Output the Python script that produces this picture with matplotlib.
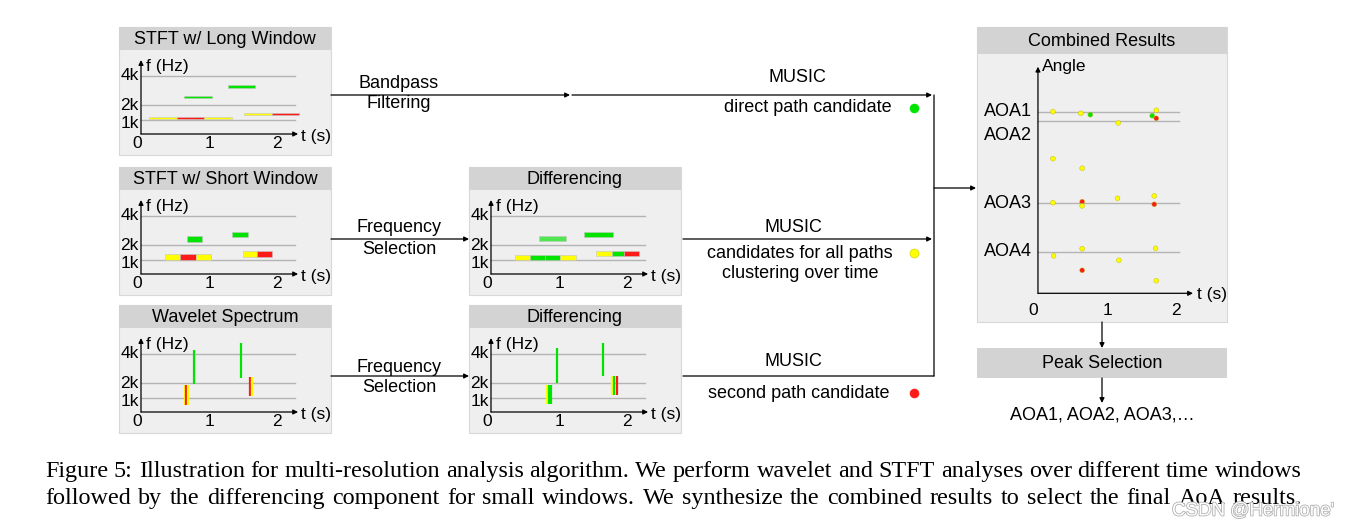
import matplotlib
matplotlib.use("Agg")
import matplotlib.pyplot as plt
import matplotlib.patheffects as pe
from matplotlib.patches import Rectangle

W, H = 1354, 529
plt.rcParams["font.family"] = ["Liberation Sans", "DejaVu Sans"]

COLORS = {"y": "#ffff00", "r": "#ff1a1a", "g": "#00e400", "lg": "#4fe64f"}

# ---------------------------------------------------------------------------
# Data (time in s, frequency in kHz, angle in arbitrary units)
# ---------------------------------------------------------------------------
# STFT w/ long window: bar start, bar end, frequency, path class
long_t0 = [0.12, 0.53, 0.93, 0.63, 1.28, 1.51, 1.93]
long_t1 = [0.53, 0.93, 1.34, 1.04, 1.68, 1.93, 2.32]
long_f = [1.12, 1.12, 1.12, 2.57, 3.26, 1.38, 1.38]
long_c = ["y", "r", "y", "g", "g", "y", "r"]

# STFT w/ short window
short_t0 = [0.67, 1.34, 0.36, 0.58, 0.81, 1.50, 1.71]
short_t1 = [0.89, 1.57, 0.58, 0.81, 1.03, 1.71, 1.93]
short_f = [2.43, 2.74, 1.18, 1.18, 1.18, 1.38, 1.38]
short_c = ["g", "g", "y", "r", "y", "y", "r"]

# Differencing of the short-window STFT
dstft_t0 = [0.70, 1.37, 0.35, 0.57, 0.79, 1.02, 1.55, 1.78, 1.96]
dstft_t1 = [1.11, 1.79, 0.57, 0.79, 1.02, 1.25, 1.78, 1.96, 2.18]
dstft_f = [2.43, 2.74, 1.16, 1.16, 1.16, 1.16, 1.39, 1.39, 1.39]
dstft_c = ["lg", "g", "y", "g", "g", "y", "y", "g", "r"]

# Wavelet spectrum: strip time, low freq, high freq, path class
wave_t = [0.78, 1.47, 0.64, 0.665, 0.69, 1.60, 1.625]
wave_f0 = [1.94, 2.35, 0.45, 0.45, 0.45, 1.07, 1.07]
wave_f1 = [4.29, 4.73, 1.87, 1.87, 1.87, 2.44, 2.44]
wave_c = ["g", "g", "y", "r", "y", "r", "y"]

# Differencing of the wavelet spectrum
dwave_t = [0.97, 1.65, 0.825, 0.855, 0.88, 1.78, 1.815, 1.85]
dwave_f0 = [2.03, 2.47, 0.52, 0.52, 0.52, 1.14, 1.14, 1.14]
dwave_f1 = [4.38, 4.79, 1.89, 1.89, 1.89, 2.49, 2.49, 2.49]
dwave_c = ["g", "g", "y", "g", "g", "y", "g", "r"]

# Combined results: AoA estimates over time
aoa_names = ["AOA1", "AOA2", "AOA3", "AOA4"]
aoa_values = [90.8, 86.0, 45.0, 20.7]
pts_t = [0.19, 0.60, 0.74, 1.71, 1.65, 1.71, 1.15, 0.19, 0.62, 0.19, 0.62,
         0.62, 1.14, 1.68, 1.68, 0.62, 1.70, 0.20, 1.16, 0.62, 1.71]
pts_a = [90.8, 90.0, 89.3, 91.5, 88.8, 87.5, 85.2, 67.3, 62.5, 45.3, 45.8,
         43.7, 47.5, 48.7, 44.5, 22.3, 22.5, 18.7, 16.5, 11.5, 6.3]
pts_c = ["y", "y", "g", "y", "g", "r", "y", "y", "y", "y", "r",
         "y", "y", "y", "r", "y", "y", "y", "y", "r", "y"]

caption = [
    "Figure 5: Illustration for multi-resolution analysis algorithm. We perform "
    "wavelet and STFT analyses over different time windows",
    "followed by the differencing component for small windows. We synthesize "
    "the combined results to select the final AoA results.",
]

# ---------------------------------------------------------------------------
# Layout helpers (pixel space)
# ---------------------------------------------------------------------------
fig = plt.figure(figsize=(W / 100, H / 100), dpi=100)
bg = fig.add_axes([0, 0, 1, 1])
bg.set_xlim(0, W)
bg.set_ylim(H, 0)
bg.axis("off")

SX, SY = 68.0, 14.5  # px per second, px per kHz
ARROW = dict(arrowstyle="-|>", mutation_scale=7, lw=0.9, color="black",
             shrinkA=0, shrinkB=0)
FS = 13
TICK_FS = 12.5


def arrow(ax, start, end, head=True):
    props = dict(ARROW)
    if not head:
        props["arrowstyle"] = "-"
    ax.annotate("", xy=end, xytext=start, arrowprops=props,
                annotation_clip=False)


def box(left, top, w, h, head, title):
    bg.add_patch(Rectangle((left, top), w, h, fc="#efefef", ec="#d8d8d8",
                           lw=0.8))
    bg.add_patch(Rectangle((left, top), w, head, fc="#d3d3d3", ec="none"))
    bg.text(left + w / 2, top + head / 2 + 1, title, ha="center",
            va="center", fontsize=FS)


def spectrum_panel(left, top, title):
    w, h, head = 212, 128, 23
    box(left, top, w, h, head, title)
    ox, oy = left + 22, top + 107
    ax = fig.add_axes([left / W, 1 - (top + h) / H, w / W, (h - head) / H])
    ax.set_xlim((left - ox) / SX, (left + w - ox) / SX)
    ax.set_ylim((oy - (top + h)) / SY, (oy - (top + head)) / SY)
    ax.axis("off")
    for f in (1, 2, 4):
        ax.plot([0, 2.26], [f, f], color="#b4b4b4", lw=1.0, zorder=1)
    arrow(ax, (0, 0), (0, 5.1))
    arrow(ax, (0, 0), (2.31, 0))
    for f, lab in zip((4, 2, 1), ("4k", "2k", "1k")):
        off = -0.25 if f == 1 else 0.0
        ax.text(-0.03, f + off, lab, ha="right", va="center",
                fontsize=TICK_FS)
    for t, lab in zip((-0.06, 1, 2), ("0", "1", "2")):
        ax.text(t, -0.66, lab, ha="center", va="center", fontsize=TICK_FS)
    ax.text(0.07, 4.68, "f (Hz)", ha="left", va="center", fontsize=TICK_FS)
    ax.text(2.35, -0.18, "t (s)", ha="left", va="center", fontsize=TICK_FS)
    return ax


def hbars(ax, t0, t1, f, c, height):
    ax.barh(f, [b - a for a, b in zip(t0, t1)], left=t0, height=height,
            color=[COLORS[k] for k in c], edgecolor="#c4c4c4", linewidth=0.4,
            zorder=3)


def vstrips(ax, t, f0, f1, c):
    ax.vlines(t, f0, f1, colors=[COLORS[k] for k in c], lw=1.6, zorder=3)


# ---------------------------------------------------------------------------
# Spectrum panels
# ---------------------------------------------------------------------------
ax1 = spectrum_panel(119, 27, "STFT w/ Long Window")
hbars(ax1, long_t0, long_t1, long_f, long_c, 0.17)

ax2 = spectrum_panel(119, 167, "STFT w/ Short Window")
hbars(ax2, short_t0, short_t1, short_f, short_c, 0.38)

ax3 = spectrum_panel(119, 305, "Wavelet Spectrum")
vstrips(ax3, wave_t, wave_f0, wave_f1, wave_c)

ax4 = spectrum_panel(469, 167, "Differencing")
hbars(ax4, dstft_t0, dstft_t1, dstft_f, dstft_c, 0.35)

ax5 = spectrum_panel(469, 305, "Differencing")
vstrips(ax5, dwave_t, dwave_f0, dwave_f1, dwave_c)

# ---------------------------------------------------------------------------
# Combined results panel
# ---------------------------------------------------------------------------
cl, ct, cw, chh, chead = 977, 27, 250, 295, 27
box(cl, ct, cw, chh, chead, "Combined Results")
cox, coy, SA = 1040, 293.3, 2.0
axc = fig.add_axes([cl / W, 1 - (ct + chh) / H, cw / W, (chh - chead) / H])
axc.set_xlim((cl - cox) / SX, (cl + cw - cox) / SX)
axc.set_ylim((coy - (ct + chh)) / SA, (coy - (ct + chead)) / SA)
axc.axis("off")
for v in aoa_values:
    axc.plot([-0.03, 2.04], [v, v], color="#b4b4b4", lw=1.0, zorder=1)
for name, v in zip(aoa_names, aoa_values):
    off = -7 if name == "AOA2" else 0
    axc.text(-0.82, v + off, name, ha="left", va="center", fontsize=FS)
arrow(axc, (-0.03, 0), (-0.03, 113.3))
arrow(axc, (-0.03, 0), (2.25, 0))
axc.scatter(pts_t, pts_a, s=12, c=[COLORS[k] for k in pts_c],
            edgecolors="#b8b800", linewidths=0.3, zorder=3)
for t, lab in zip((-0.1, 1, 2), ("0", "1", "2")):
    axc.text(t, -8.4, lab, ha="center", va="center", fontsize=TICK_FS)
axc.text(0.03, 113.3, "Angle", ha="left", va="center", fontsize=TICK_FS)
axc.text(2.31, -0.8, "t (s)", ha="left", va="center", fontsize=TICK_FS)

# ---------------------------------------------------------------------------
# Flow arrows and labels
# ---------------------------------------------------------------------------
arrow(bg, (331, 95), (570, 95))
arrow(bg, (572, 95), (932, 95))
arrow(bg, (934, 376), (934, 95), head=False)
arrow(bg, (331, 239), (469, 239))
arrow(bg, (683, 239), (932, 239))
arrow(bg, (331, 376), (469, 376))
arrow(bg, (683, 376), (934, 376), head=False)
arrow(bg, (934, 188), (976, 188))
arrow(bg, (1102, 322), (1102, 348))
arrow(bg, (1102, 378), (1102, 403))

for y, s in [(83, "Bandpass"), (104, "Filtering"), (228, "Frequency"),
             (249, "Selection"), (367, "Frequency"), (388, "Selection")]:
    bg.text(399, y, s, ha="center", va="center", fontsize=FS)

for x, y, s in [(797, 78, "MUSIC"), (808, 108, "direct path candidate"),
                (793, 227, "MUSIC"), (800, 253, "candidates for all paths"),
                (800, 274, "clustering over time"), (793, 361, "MUSIC"),
                (799, 393, "second path candidate")]:
    bg.text(x, y, s, ha="center", va="center", fontsize=FS)

for y, k in [(108, "g"), (253, "y"), (393, "r")]:
    bg.plot(914, y, "o", ms=6.5, color=COLORS[k], mec="#c8c800" if k == "y"
            else COLORS[k], mew=0.4)

bg.add_patch(Rectangle((977, 348), 250, 30, fc="#d3d3d3", ec="none"))
bg.text(1102, 364, "Peak Selection", ha="center", va="center", fontsize=FS)
bg.text(1102, 415, "AOA1, AOA2, AOA3,\u2026", ha="center", va="center",
        fontsize=FS)

# caption, justified between x=45 and x=1302 (word by word, on a baseline)
renderer = fig.canvas.get_renderer()
cap_left, cap_right = 45, 1302
for y, line in zip((477, 504), caption):
    words = line.split(" ")
    texts = [bg.text(0, y, w, ha="left", va="baseline", fontsize=17.4,
                     family="Liberation Serif") for w in words]
    widths = [t.get_window_extent(renderer).width for t in texts]
    gap = (cap_right - cap_left - sum(widths)) / (len(words) - 1)
    x = cap_left
    for t, wd in zip(texts, widths):
        t.set_x(x)
        x += wd + gap

# watermark
bg.text(1172, 511, "CSDN @Hermione'", ha="left", va="center", fontsize=13.5,
        color="white",
        path_effects=[pe.withStroke(linewidth=1.2, foreground="#b0b0b0")])

fig.savefig("out.png", dpi=100, facecolor="white")
